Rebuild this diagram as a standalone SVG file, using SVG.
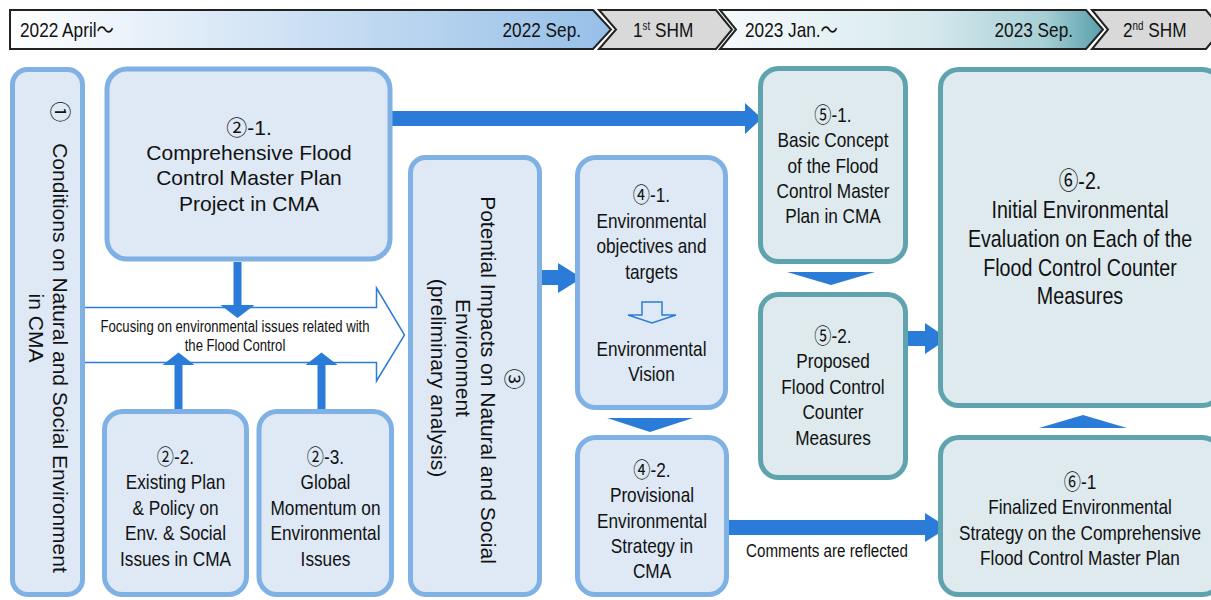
<svg xmlns="http://www.w3.org/2000/svg" width="1211" height="600" viewBox="0 0 1211 600">
  <defs>
    <linearGradient id="g1" gradientUnits="userSpaceOnUse" x1="10" y1="0" x2="611" y2="0">
      <stop offset="0" stop-color="#ffffff"/>
      <stop offset="1" stop-color="#96bfe8"/>
    </linearGradient>
    <linearGradient id="g2" gradientUnits="userSpaceOnUse" x1="720" y1="0" x2="1102" y2="0">
      <stop offset="0" stop-color="#f6fafc"/>
      <stop offset="0.55" stop-color="#d6e9ed"/>
      <stop offset="0.85" stop-color="#a6cfd5"/>
      <stop offset="1" stop-color="#5a9fab"/>
    </linearGradient>
    <style>
      .seg { stroke: #222; stroke-width: 2; stroke-linejoin: miter; }
      .gray { fill: #d9d9d9; }
      .nb { fill: #dee9f5; stroke: #7fb1e4; stroke-width: 5; }
      .nt { fill: #deeaee; stroke: #5ea3ad; stroke-width: 5; }
      .ar { fill: #2b7cd8; }
      .hol { fill: #ffffff; stroke: #2b7cd8; stroke-width: 1.5; stroke-linejoin: miter; }
      .t { font-family: 'Liberation Sans', 'Noto Sans CJK JP', sans-serif; font-size: 21px; fill: #111; text-anchor: middle; }
      .tl { font-family: 'Liberation Sans', 'Noto Sans CJK JP', sans-serif; font-size: 21px; fill: #111; }
      .s16 { font-size: 16px; }
      .s18 { font-size: 18.5px; }
      .s24 { font-size: 24px; }
      .sup { font-size: 12px; }
    </style>
  </defs>

  <!-- timeline band; condensed lettering is a 0.82 horizontal scale about each anchor -->
  <g id="timeline">
    <polygon class="seg" fill="url(#g1)" points="10,10 593,10 611,29.5 593,49 10,49"/>
    <polygon class="seg gray" points="599,10 716,10 732,29.5 716,49 599,49 616,29.5"/>
    <polygon class="seg" fill="url(#g2)" points="720,10 1086,10 1103,29.5 1086,49 720,49 736,29.5"/>
    <polygon class="seg gray" points="1092,10 1206,10 1222,29.5 1206,49 1092,49 1108,29.5"/>
    <text class="tl" x="20" y="37" transform="matrix(0.82,0,0,1,3.6,0)">2022 April～</text>
    <text class="tl" x="581" y="37" text-anchor="end" transform="matrix(0.82,0,0,1,104.58,0)">2022 Sep.</text>
    <text class="tl" x="633" y="37" transform="matrix(0.82,0,0,1,113.94,0)">1<tspan class="sup" dy="-7">st</tspan><tspan dy="7"> SHM</tspan></text>
    <text class="tl" x="745" y="37" transform="matrix(0.82,0,0,1,134.1,0)">2023 Jan.～</text>
    <text class="tl" x="1073" y="37" text-anchor="end" transform="matrix(0.82,0,0,1,193.14,0)">2023 Sep.</text>
    <text class="tl" x="1123" y="37" transform="matrix(0.82,0,0,1,202.14,0)">2<tspan class="sup" dy="-7">nd</tspan><tspan dy="7"> SHM</tspan></text>
  </g>

  <!-- connectors -->
  <g id="connectors">
    <polygon class="hol" points="83,307.5 376.5,307.5 376.5,288 404.5,335 376.5,381 376.5,362.5 83,362.5"/>
    <text class="t s16" transform="matrix(0.82,0,0,1,42.3,0)"><tspan x="235" y="332">Focusing on environmental issues related with</tspan><tspan x="235" y="351">the Flood Control</tspan></text>
    <polygon class="ar" points="392,111 745,111 745,103 762,118.5 745,134 745,126 392,126"/>
    <polygon class="ar" points="233.5,262 241.5,262 241.5,305 254.5,305 237.5,318 220.5,305 233.5,305"/>
    <polygon class="ar" points="174.5,410 182.5,410 182.5,365 194.5,365 178.5,352.5 162.5,365 174.5,365"/>
    <polygon class="ar" points="317.5,410 325.5,410 325.5,365 337.5,365 321.5,352.5 305.5,365 317.5,365"/>
    <polygon class="ar" points="538,270 558,270 558,263 582,278 558,293 558,285 538,285"/>
    <polygon class="ar" points="607,418 693,418 650,432"/>
    <polygon class="ar" points="727,520 925,520 925,513 948,527.5 925,542 925,535 727,535"/>
    <text class="t s18" x="827" y="557" transform="matrix(0.82,0,0,1,148.86,0)">Comments are reflected</text>
    <polygon class="ar" points="787,272 875,272 831,285"/>
    <polygon class="ar" points="906,331 925,331 925,323 948,338.5 925,354 925,346 906,346"/>
    <polygon class="ar" points="1039,428 1127,428 1083,415"/>
  </g>

  <g id="n1">
    <rect class="nb" x="12.5" y="69.5" width="70" height="525" rx="15"/>
    <text class="t" transform="rotate(90)"><tspan x="337" y="-53">①　Conditions on Natural and Social Environment</tspan><tspan x="328" y="-29">in CMA</tspan></text>
  </g>

  <g id="n2-1">
    <rect class="nb" x="107" y="69" width="283" height="190" rx="20"/>
    <text class="t"><tspan x="249" y="135">②-1.</tspan><tspan x="249" y="160">Comprehensive Flood</tspan><tspan x="249" y="185">Control Master Plan</tspan><tspan x="249" y="211">Project in CMA</tspan></text>
  </g>

  <g id="n2-2">
    <rect class="nb" x="104.5" y="411.5" width="142" height="183" rx="18"/>
    <text class="t" transform="matrix(0.82,0,0,1,31.59,0)"><tspan x="175.5" y="464">②-2.</tspan><tspan x="175.5" y="489">Existing Plan</tspan><tspan x="175.5" y="515">&amp; Policy on</tspan><tspan x="175.5" y="540">Env. &amp; Social</tspan><tspan x="175.5" y="566">Issues in CMA</tspan></text>
  </g>

  <g id="n2-3">
    <rect class="nb" x="259" y="411.5" width="132.5" height="183" rx="18"/>
    <text class="t" transform="matrix(0.82,0,0,1,58.59,0)"><tspan x="325.5" y="464">②-3.</tspan><tspan x="325.5" y="489">Global</tspan><tspan x="325.5" y="515">Momentum on</tspan><tspan x="325.5" y="540">Environmental</tspan><tspan x="325.5" y="566">Issues</tspan></text>
  </g>

  <g id="n3">
    <rect class="nb" x="410.5" y="157.5" width="129" height="437" rx="15"/>
    <text class="t" transform="rotate(90)"><tspan x="379" y="-507">③</tspan><tspan x="380" y="-481">Potential Impacts on Natural and Social</tspan><tspan x="358" y="-456">Environment</tspan><tspan x="378" y="-431">(preliminary analysis)</tspan></text>
  </g>

  <g id="n4-1">
    <rect class="nb" x="577.5" y="157.5" width="148" height="250" rx="18"/>
    <polygon class="hol" style="fill:none" points="642,302 662,302 662,315 676,315 652,323 628,315 642,315"/>
    <text class="t" transform="matrix(0.82,0,0,1,117.27,0)"><tspan x="651.5" y="202">④-1.</tspan><tspan x="651.5" y="228">Environmental</tspan><tspan x="651.5" y="253">objectives and</tspan><tspan x="651.5" y="279">targets</tspan><tspan x="651.5" y="356">Environmental</tspan><tspan x="651.5" y="381">Vision</tspan></text>
  </g>

  <g id="n4-2">
    <rect class="nb" x="577.5" y="437.5" width="149" height="157" rx="18"/>
    <text class="t" transform="matrix(0.82,0,0,1,117.36,0)"><tspan x="652" y="477">④-2.</tspan><tspan x="652" y="502">Provisional</tspan><tspan x="652" y="528">Environmental</tspan><tspan x="652" y="553">Strategy in</tspan><tspan x="652" y="578">CMA</tspan></text>
  </g>

  <g id="n5-1">
    <rect class="nt" x="760.5" y="68.5" width="145" height="193" rx="18"/>
    <text class="t" transform="matrix(0.82,0,0,1,149.94,0)"><tspan x="833" y="122">⑤-1.</tspan><tspan x="833" y="147">Basic Concept</tspan><tspan x="833" y="173">of the Flood</tspan><tspan x="833" y="198">Control Master</tspan><tspan x="833" y="223">Plan in CMA</tspan></text>
  </g>

  <g id="n5-2">
    <rect class="nt" x="760.5" y="294.5" width="145" height="183" rx="18"/>
    <text class="t" transform="matrix(0.82,0,0,1,149.94,0)"><tspan x="833" y="343">⑤-2.</tspan><tspan x="833" y="368.5">Proposed</tspan><tspan x="833" y="394">Flood Control</tspan><tspan x="833" y="419.5">Counter</tspan><tspan x="833" y="445">Measures</tspan></text>
  </g>

  <g id="n6-2">
    <rect class="nt" x="940.5" y="69.5" width="280" height="336" rx="18"/>
    <text class="t s24" transform="matrix(0.82,0,0,1,194.4,0)"><tspan x="1080" y="189.5">⑥-2.</tspan><tspan x="1080" y="218">Initial Environmental</tspan><tspan x="1080" y="247">Evaluation on Each of the</tspan><tspan x="1080" y="276">Flood Control Counter</tspan><tspan x="1080" y="304.5">Measures</tspan></text>
  </g>

  <g id="n6-1">
    <rect class="nt" x="940.5" y="437.5" width="280" height="157" rx="18"/>
    <text class="t" transform="matrix(0.82,0,0,1,194.4,0)"><tspan x="1080" y="489">⑥-1</tspan><tspan x="1080" y="514.5">Finalized Environmental</tspan><tspan x="1080" y="540">Strategy on the Comprehensive</tspan><tspan x="1080" y="565.5">Flood Control Master Plan</tspan></text>
  </g>
</svg>
